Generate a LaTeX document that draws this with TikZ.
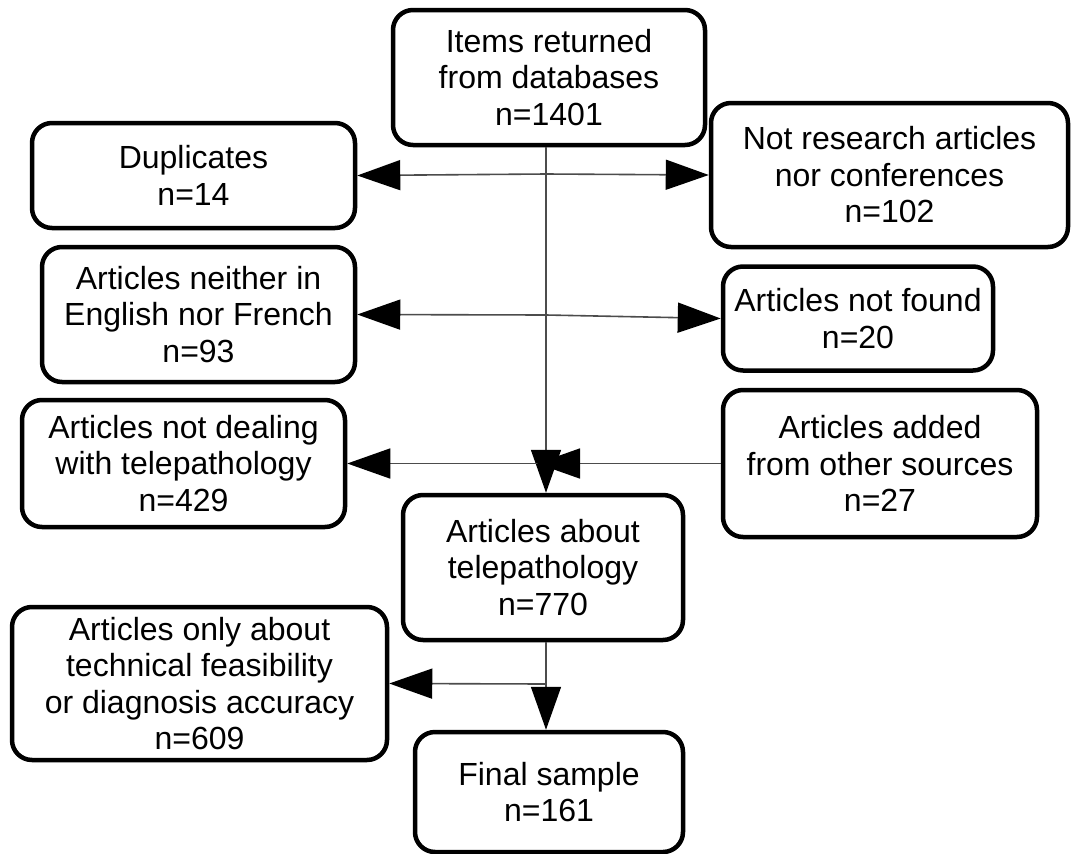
\documentclass[tikz,border=0pt]{standalone}
\usepackage{fontspec}
\setmainfont{Liberation Sans}
\usetikzlibrary{arrows.meta}
\begin{document}
\begin{tikzpicture}[x=1pt,y=-1pt,
  box/.style={draw=black, line width=4.5pt, rounded corners=20pt, fill=white,
    inner sep=0pt, align=center, font=\fontsize{32}{36.5}\selectfont},
  conn/.style={draw=black!70, line width=1.6pt},
  arr/.style={conn, -{Triangle[length=43pt,width=30pt,color=black,fill=black]}}
]
\useasboundingbox (0,0) rectangle (1071,854);
\fill[white] (0,0) rectangle (1071,854);

\node[box, minimum width=312pt, minimum height=135pt] (top) at (549,77.5)
  {Items returned\\from databases\\n=1401};
\node[box, minimum width=323pt, minimum height=105pt] (dup) at (193.5,175.5)
  {Duplicates\\n=14};
\node[box, minimum width=357pt, minimum height=144pt] (nr) at (889.5,175)
  {Not research articles\\nor conferences\\n=102};
\node[box, minimum width=313pt, minimum height=135pt] (eng) at (198.5,314.5)
  {Articles neither in\\English nor French\\n=93};
\node[box, minimum width=270pt, minimum height=104pt] (nf) at (858,318.5)
  {Articles not found\\n=20};
\node[box, minimum width=323pt, minimum height=127pt] (nd) at (183.5,463.5)
  {Articles not dealing\\with telepathology\\n=429};
\node[box, minimum width=314pt, minimum height=147pt] (add) at (880,463.5)
  {Articles added\\from other sources\\n=27};
\node[box, minimum width=280pt, minimum height=145pt] (tele) at (543,567.5)
  {Articles about\\telepathology\\n=770};
\node[box, minimum width=375pt, minimum height=153pt] (only) at (199.5,683.5)
  {Articles only about\\technical feasibility\\or diagnosis accuracy\\n=609};
\node[box, minimum width=268pt, minimum height=120pt] (final) at (549,792)
  {Final sample\\n=161};

\coordinate (v) at (546,0);
\coordinate (j1) at (546,174);
\coordinate (j2) at (546,315);
\coordinate (j3) at (546,463.5);
\coordinate (j3r) at (537,463.5);
\coordinate (j4) at (546,684);

\draw[arr] (top.south -| v) -- (tele.north -| v);
\draw[arr] (tele.south -| v) -- (final.north -| v);
\draw[arr] (j1) -- (dup.east);
\draw[arr] (j1) -- (nr.west);
\draw[arr] (j2) -- (eng.east);
\draw[arr] (j2) -- (nf.west);
\draw[arr] (j3) -- (nd.east);
\draw[arr] (add.west) -- (j3r);
\draw[arr] (j4) -- (only.east);
\end{tikzpicture}
\end{document}
